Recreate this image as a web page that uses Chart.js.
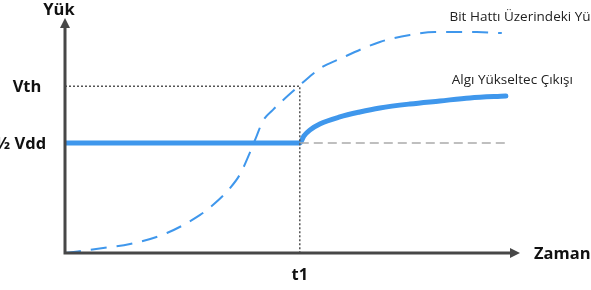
<!DOCTYPE html>
<html>
<head>
<meta charset="utf-8">
<script src="https://cdn.jsdelivr.net/npm/chart.js@4"></script>
<style>
  html, body { margin: 0; padding: 0; background: #fff; }
  #wrap { width: 591px; height: 290px; }
</style>
</head>
<body>
<div id="wrap"><canvas id="chart" width="591" height="290"></canvas></div>
<script>
// levels (arbitrary units)
const vth = 7.1;
const halfVdd = 4.68;
const t1 = 5.16;
const xMax = 10;
const yMax = 10;

// bit line voltage (dashed S-curve)
const bitX = [0, 0.84, 1.43, 2.24, 2.97, 3.25, 3.63, 3.85, 4.07, 4.22, 4.35, 4.57, 4.99, 5.21, 5.65, 5.98, 6.92, 7.58, 8.13, 9.05, 9.6];
const bitY = [0, 0.21, 0.38, 0.85, 1.62, 2.04, 2.77, 3.36, 4.3, 5.02, 5.62, 6.09, 6.85, 7.23, 7.91, 8.21, 8.98, 9.28, 9.4, 9.4, 9.36];

// sense amplifier output (thick solid)
const ampX = [0, 5.16, 5.25, 5.38, 5.6, 6.04, 6.48, 6.92, 7.58, 8.24, 8.9, 9.69];
const ampY = [4.68, 4.68, 4.98, 5.23, 5.49, 5.79, 6.0, 6.17, 6.34, 6.47, 6.6, 6.68];

const yTickLabels = ['Vth', '½ Vdd'];
const xTickLabel = 't1';
const seriesNames = ['Bit Hattı Üzerindeki Yük', 'Algı Yükseltec Çıkışı'];

const zip = (xs, ys) => xs.map((x, i) => ({ x, y: ys[i] }));

const blue = '#3f97ec';

const overlay = {
  id: 'overlay',
  afterDatasetsDraw(chart) {
    const { ctx, scales: { x, y } } = chart;
    const x0 = x.getPixelForValue(0), y0 = y.getPixelForValue(0);
    const xEnd = x.getPixelForValue(xMax), yEnd = y.getPixelForValue(yMax);
    ctx.save();
    // axes
    ctx.strokeStyle = '#474747';
    ctx.fillStyle = '#474747';
    ctx.lineWidth = 3;
    ctx.beginPath();
    ctx.moveTo(x0, y0 + 1.5);
    ctx.lineTo(x0, yEnd + 8);
    ctx.moveTo(x0 - 1.5, y0);
    ctx.lineTo(xEnd - 8, y0);
    ctx.stroke();
    ctx.beginPath();
    ctx.moveTo(x0, yEnd);
    ctx.lineTo(x0 - 5, yEnd + 10);
    ctx.lineTo(x0 + 5, yEnd + 10);
    ctx.closePath();
    ctx.fill();
    ctx.beginPath();
    ctx.moveTo(xEnd, y0);
    ctx.lineTo(xEnd - 10, y0 - 5);
    ctx.lineTo(xEnd - 10, y0 + 5);
    ctx.closePath();
    ctx.fill();

    // labels
    ctx.fillStyle = '#111';
    ctx.font = 'bold 16.5px "Open Sans", sans-serif';
    ctx.textBaseline = 'middle';
    ctx.textAlign = 'center';
    ctx.fillText('Yük', x0 - 6, yEnd - 8);
    ctx.fillText(yTickLabels[0], 27, y.getPixelForValue(vth) + 1);
    ctx.fillText(yTickLabels[1], 21, y.getPixelForValue(halfVdd) + 1);
    ctx.fillText(xTickLabel, x.getPixelForValue(t1), y0 + 22);
    ctx.textAlign = 'left';
    ctx.fillText('Zaman', xEnd + 14, y0 + 1);

    ctx.font = '13.5px "Open Sans", sans-serif';
    ctx.fillStyle = '#222';
    ctx.fillText(seriesNames[0], x.getPixelForValue(8.45), y.getPixelForValue(10.0) - 1);
    ctx.fillText(seriesNames[1], x.getPixelForValue(8.5), y.getPixelForValue(7.35));
    ctx.restore();
  }
};

new Chart(document.getElementById('chart'), {
  type: 'scatter',
  data: {
    datasets: [
      {
        label: 'Vth dotted',
        data: [{ x: 0, y: vth }, { x: t1, y: vth }, { x: t1, y: 0 }],
        showLine: true, borderColor: '#555', borderWidth: 1.5, borderDash: [2, 2],
        pointRadius: 0, tension: 0
      },
      {
        label: 'half Vdd dashed',
        data: [{ x: t1, y: halfVdd }, { x: 9.69, y: halfVdd }],
        showLine: true, borderColor: '#aaa', borderWidth: 1.5, borderDash: [9, 5],
        pointRadius: 0, tension: 0
      },
      {
        label: seriesNames[0],
        data: zip(bitX, bitY),
        showLine: true, borderColor: blue, borderWidth: 2, borderDash: [16, 10],
        pointRadius: 0, cubicInterpolationMode: 'monotone'
      },
      {
        label: seriesNames[1],
        data: zip(ampX, ampY),
        showLine: true, borderColor: blue, borderWidth: 5, borderCapStyle: 'round',
        pointRadius: 0, cubicInterpolationMode: 'monotone'
      }
    ]
  },
  options: {
    responsive: false,
    animation: false,
    layout: { padding: { left: 65, right: 71, top: 18, bottom: 37 } },
    plugins: { legend: { display: false }, tooltip: { enabled: false } },
    scales: {
      x: { type: 'linear', min: 0, max: xMax, display: false },
      y: { type: 'linear', min: 0, max: yMax, display: false }
    }
  },
  plugins: [overlay]
});
</script>
</body>
</html>
